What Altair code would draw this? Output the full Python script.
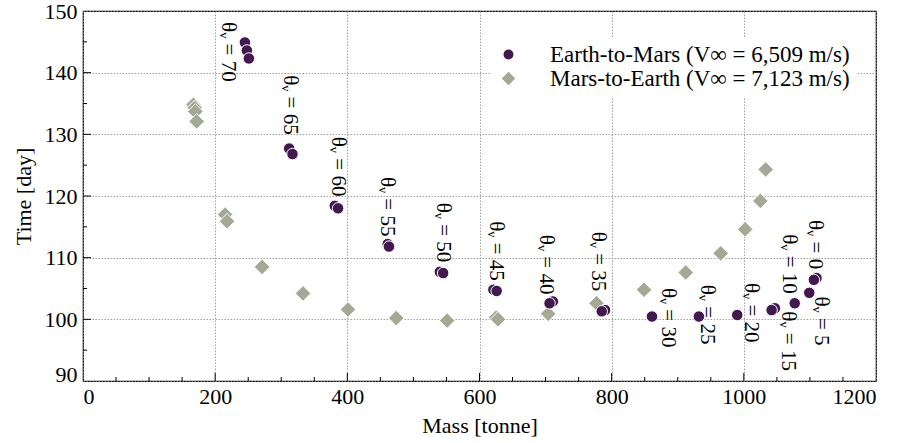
import altair as alt
import pandas as pd

EM = "Earth-to-Mars (V∞ = 6,509 m/s)"
ME = "Mars-to-Earth (V∞ = 7,123 m/s)"

# Earth-to-Mars points (circles)
em_mass = [245, 248, 251, 312, 317, 381, 386, 461, 463, 540, 545, 621, 626,
           711, 706, 790, 785, 861, 932, 990, 1047, 1042, 1077, 1099, 1110, 1106]
em_time = [144.9, 143.6, 142.3, 127.7, 126.8, 118.4, 118.0, 112.2, 111.8, 107.7, 107.5, 104.8, 104.6,
           102.9, 102.6, 101.5, 101.3, 100.45, 100.45, 100.7, 101.8, 101.5, 102.6, 104.3, 106.7, 106.4]

# Mars-to-Earth points (diamonds)
me_mass = [167, 169, 170, 172, 215, 218, 271, 333, 401, 474, 551, 625, 628,
           704, 777, 849, 912, 965, 1002, 1025, 1033]
me_time = [134.8, 134.3, 133.7, 132.1, 117.0, 115.9, 108.5, 104.2, 101.6, 100.2, 99.8, 100.3, 100.0,
           100.9, 102.6, 104.8, 107.6, 110.7, 114.6, 119.2, 124.3]

# theta labels
lab_theta = [70, 65, 60, 55, 50, 45, 40, 35, 30, 25, 20, 15, 10, 5, 0]
lab_mass = [219, 313, 386, 460, 545, 625, 701, 779, 885, 945, 1011, 1067, 1069, 1117, 1107]
lab_time = [148.2, 139.6, 129.6, 123.1, 118.9, 115.9, 113.7, 114.2, 105.1, 105.6, 105.9, 101.3, 113.8, 103.7, 116.1]

x_ticks_major = [200, 400, 600, 800, 1000]
x_ticks_minor = [50, 100, 150, 250, 300, 350, 450, 500, 550, 650, 700, 750, 850, 900, 950, 1050, 1100, 1150]
y_ticks_major = [100, 110, 120, 130, 140]
y_ticks_minor = [95, 105, 115, 125, 135, 145]

PURPLE = "#42184f"
SAGE = "#a3a993"
FONT = "Liberation Serif, Times New Roman, serif"

pts = pd.DataFrame({
    "mass": me_mass + em_mass,
    "time": me_time + em_time,
    "series": [ME] * len(me_mass) + [EM] * len(em_mass),
})
labs = pd.DataFrame({
    "mass": lab_mass,
    "time": lab_time,
    "label": [f"θᵥ = {t}" for t in lab_theta],
})

xs = alt.Scale(domain=[0, 1200], nice=False)
ys = alt.Scale(domain=[90, 150], nice=False)

legend = alt.Legend(
    title=None, orient="none", legendX=408, legendY=26, padding=6,
    fillColor="white", labelFont=FONT, labelFontSize=23, labelColor="black",
    labelOffset=30, rowPadding=0, labelLimit=0,
)

points = alt.Chart(pts).mark_point(filled=True, opacity=1, stroke="white", strokeWidth=1).encode(
    x=alt.X("mass:Q", scale=xs, axis=alt.Axis(
        values=[0, 200, 400, 600, 800, 1000, 1200], format="d", title="Mass [tonne]", grid=True,
        ticks=False, domain=False, labelFont=FONT, labelFontSize=22, labelColor="black",
        titleFont=FONT, titleFontSize=22, titleFontWeight="normal", titleColor="black",
        labelPadding=5, titlePadding=8, gridColor="#888", gridDash=[1.5, 1.5], gridWidth=0.8)),
    y=alt.Y("time:Q", scale=ys, axis=alt.Axis(
        values=[90, 100, 110, 120, 130, 140, 150], format="d", title="Time [day]", grid=True,
        ticks=False, domain=False, labelFont=FONT, labelFontSize=22, labelColor="black",
        labelBaseline={"condition": {"test": "datum.value == 90", "value": "alphabetic"}, "value": "middle"},
        titleFont=FONT, titleFontSize=22, titleFontWeight="normal", titleColor="black",
        labelPadding=6, titlePadding=9, gridColor="#888", gridDash=[1.5, 1.5], gridWidth=0.8)),
    color=alt.Color("series:N", scale=alt.Scale(domain=[EM, ME], range=[PURPLE, SAGE]), legend=legend),
    shape=alt.Shape("series:N", scale=alt.Scale(domain=[EM, ME], range=["circle", "diamond"]), legend=legend),
    size=alt.Size("series:N", scale=alt.Scale(domain=[EM, ME], range=[132, 245]), legend=legend),
    order=alt.Order("ord:Q"),
).transform_calculate(ord=f"datum.series == '{ME}' ? 0 : 1")

texts = alt.Chart(labs).mark_text(
    angle=90, align="left", baseline="middle", font=FONT, fontSize=21, color="black"
).encode(x=alt.X("mass:Q", scale=xs), y=alt.Y("time:Q", scale=ys), text="label:N")

H = 370
xt_maj = alt.Chart(pd.DataFrame({"mass": x_ticks_major})).mark_rule(color="black", strokeWidth=1).encode(
    x=alt.X("mass:Q", scale=xs), y=alt.value(H), y2=alt.value(H - 8))
xt_min = alt.Chart(pd.DataFrame({"mass": x_ticks_minor})).mark_rule(color="black", strokeWidth=1).encode(
    x=alt.X("mass:Q", scale=xs), y=alt.value(H), y2=alt.value(H - 4))
yt_maj = alt.Chart(pd.DataFrame({"time": y_ticks_major})).mark_rule(color="black", strokeWidth=1).encode(
    y=alt.Y("time:Q", scale=ys), x=alt.value(0), x2=alt.value(8))
yt_min = alt.Chart(pd.DataFrame({"time": y_ticks_minor})).mark_rule(color="black", strokeWidth=1).encode(
    y=alt.Y("time:Q", scale=ys), x=alt.value(0), x2=alt.value(4))

chart = alt.layer(xt_maj, xt_min, yt_maj, yt_min, texts, points).properties(
    width=793, height=H,
    autosize=alt.AutoSizeParams(type="none"),
    padding={"left": 83, "top": 11, "right": 25, "bottom": 62},
    background="white",
).configure(font=FONT).configure_view(stroke="black", strokeWidth=1.2)

chart.save("out.html", embed_options={"renderer": "svg", "actions": False})
